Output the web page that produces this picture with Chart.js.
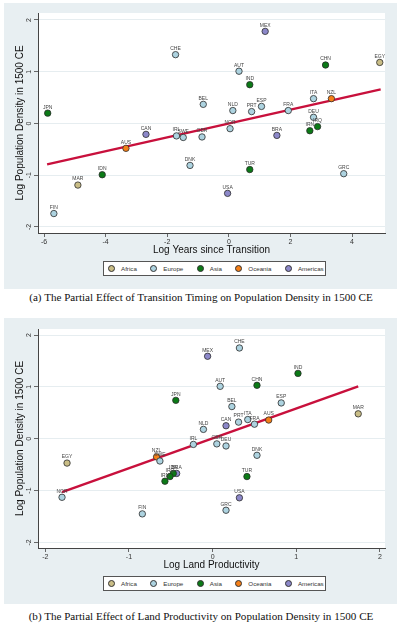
<!DOCTYPE html>
<html>
<head>
<meta charset="utf-8">
<script src="https://cdn.jsdelivr.net/npm/chart.js@4.4.1/dist/chart.umd.min.js"></script>
<style>
  body { margin: 0; background: #fff; width: 400px; height: 625px; position: relative; overflow: hidden; font-family: "Liberation Sans", Arial, sans-serif; }
  .panel { position: absolute; left: 4px; width: 393px; height: 286px; background: #e8eff2; }
  .panel canvas { position: absolute; left: 0; top: 0; }
  .legend { position: absolute; left: 99px; top: 258px; width: 217px; height: 13px; border: 1px solid #555; background: #fff;
            display: flex; align-items: center; padding-left: 4px; gap: 13.5px; font-size: 6.2px; color: #333; }
  .legend .item { display: flex; align-items: center; gap: 6px; }
  .legend .dot { width: 5px; height: 5px; border-radius: 50%; border: 0.8px solid #333; }
  .caption { position: absolute; left: 0; width: 402px; text-align: center; font-family: "Liberation Serif", serif; font-size: 11.1px; line-height: 12px; color: #111; }
</style>
</head>
<body>
<div class="panel" style="top:3px"><canvas id="chartA" width="393" height="286"></canvas><div class="legend" id="legendA"></div></div>
<div class="caption" style="top:291px">(a) The Partial Effect of Transition Timing on Population Density in 1500 CE</div>
<div class="panel" style="top:318px"><canvas id="chartB" width="393" height="286"></canvas><div class="legend" id="legendB"></div></div>
<div class="caption" style="top:610px">(b) The Partial Effect of Land Productivity on Population Density in 1500 CE</div>
<script>
// Regions and their marker colours
const regions = ["Africa", "Europe", "Asia", "Oceania", "Americas"];
const regionColors = ["#c9bd86", "#add3e0", "#0b7a16", "#f57f17", "#8c88c9"];

// Panel (a): log years since transition vs log population density
const codesA = ["CHE", "JPN", "CAN", "IRL", "SWE", "GBR", "NOR", "MEX", "EGY", "CHN", "AUT",
  "IND", "BEL", "NLD", "PRT", "ESP", "FRA", "ITA", "NZL", "DEU", "IRQ", "IRN", "BRA", "AUS",
  "DNK", "IDN", "MAR", "FIN", "TUR", "GRC", "USA"];
const regionA = ["Europe", "Asia", "Americas", "Europe", "Europe", "Europe", "Europe", "Americas",
  "Africa", "Asia", "Europe", "Asia", "Europe", "Europe", "Europe", "Europe", "Europe", "Europe",
  "Oceania", "Europe", "Asia", "Asia", "Americas", "Oceania", "Europe", "Asia", "Africa", "Europe",
  "Asia", "Europe", "Americas"];
const yearsA = [-1.73, -5.88, -2.69, -1.70, -1.48, -0.87, 0.04, 1.18, 4.90, 3.14, 0.33,
  0.68, -0.83, 0.13, 0.74, 1.06, 1.93, 2.75, 3.33, 2.75, 2.88, 2.63, 1.56, -3.34,
  -1.26, -4.11, -4.90, -5.68, 0.68, 3.73, -0.04];
const densityA = [1.33, 0.20, -0.21, -0.24, -0.27, -0.26, -0.10, 1.78, 1.18, 1.13, 1.01,
  0.75, 0.37, 0.25, 0.23, 0.33, 0.25, 0.48, 0.48, 0.12, -0.06, -0.14, -0.23, -0.48,
  -0.81, -0.99, -1.19, -1.74, -0.89, -0.97, -1.35];
const fitAx = [-5.90, 4.93];
const fitAy = [-0.79, 0.66];
const xTicksA = [-6, -4, -2, 0, 2, 4];

// Panel (b): log land productivity vs log population density
const codesB = ["JPN", "IRL", "MEX", "CHE", "IND", "AUT", "CHN", "BEL", "ESP", "MAR", "NLD",
  "CAN", "PRT", "ITA", "FRA", "AUS", "GBR", "DEU", "DNK", "TUR", "USA", "GRC", "EGY", "NZL",
  "SWE", "BRA", "IDN", "IRQ", "IRN", "NOR", "FIN"];
const regionB = ["Asia", "Europe", "Americas", "Europe", "Asia", "Europe", "Asia", "Europe",
  "Europe", "Africa", "Europe", "Americas", "Europe", "Europe", "Europe", "Oceania", "Europe",
  "Europe", "Europe", "Asia", "Americas", "Europe", "Africa", "Oceania", "Europe", "Americas",
  "Asia", "Asia", "Asia", "Europe", "Europe"];
const landB = [-0.44, -0.23, -0.06, 0.32, 1.02, 0.09, 0.53, 0.23, 0.82, 1.74, -0.11,
  0.16, 0.31, 0.42, 0.50, 0.67, 0.05, 0.16, 0.53, 0.41, 0.32, 0.16, -1.74, -0.67,
  -0.63, -0.43, -0.47, -0.51, -0.57, -1.80, -0.84];
const densityB = [0.74, -0.11, 1.59, 1.75, 1.26, 1.01, 1.03, 0.62, 0.69, 0.48, 0.18,
  0.25, 0.32, 0.37, 0.28, 0.36, -0.10, -0.14, -0.32, -0.73, -1.14, -1.38, -0.47, -0.35,
  -0.43, -0.67, -0.67, -0.73, -0.82, -1.13, -1.45];
const fitBx = [-1.80, 1.74];
const fitBy = [-1.03, 1.01];
const xTicksB = [-2, -1, 0, 1, 2];

const yTicks = [-2, -1, 0, 1, 2];
const yTitle = "Log Population Density in 1500 CE";
const fontFamily = '"Liberation Sans", Arial, sans-serif';

// White plot region on the grey graph region
const plotBg = {
  id: "plotBg",
  beforeDraw(chart) {
    const { ctx, chartArea: a } = chart;
    ctx.save();
    ctx.fillStyle = "#fff";
    ctx.fillRect(a.left, a.top, a.right - a.left, a.bottom - a.top);
    ctx.restore();
  },
};

// Country code above each marker
const codeLabels = {
  id: "codeLabels",
  afterDatasetsDraw(chart) {
    const ctx = chart.ctx;
    ctx.save();
    ctx.font = "5px " + fontFamily;
    ctx.fillStyle = "#444";
    ctx.textAlign = "center";
    ctx.textBaseline = "middle";
    chart.data.datasets.forEach((ds, i) => {
      if (!ds.codes) return;
      chart.getDatasetMeta(i).data.forEach((pt, j) => {
        ctx.fillText(ds.codes[j], pt.x, pt.y - 6);
      });
    });
    ctx.restore();
  },
};

function buildDatasets(codes, region, xs, ys, fitX, fitY) {
  const sets = regions.map((r, k) => {
    const idx = codes.map((_, i) => i).filter((i) => region[i] === r);
    return {
      label: r,
      codes: idx.map((i) => codes[i]),
      data: idx.map((i) => ({ x: xs[i], y: ys[i] })),
      backgroundColor: regionColors[k],
      borderColor: "#2b2b2b",
      borderWidth: 0.8,
      pointRadius: 3.2,
    };
  });
  sets.push({
    label: "fit",
    data: fitX.map((x, i) => ({ x: x, y: fitY[i] })),
    showLine: true,
    borderColor: "#c8103c",
    borderWidth: 2.4,
    pointRadius: 0,
  });
  return sets;
}

function makeChart(id, datasets, xTicks, xRange, yRange, xTitle, padTop) {
  new Chart(document.getElementById(id).getContext("2d"), {
    type: "scatter",
    data: { datasets: datasets },
    plugins: [plotBg, codeLabels],
    options: {
      responsive: false,
      animation: false,
      events: [],
      layout: { padding: { left: 0, right: 12, top: padTop, bottom: 30 } },
      plugins: { legend: { display: false }, tooltip: { enabled: false } },
      scales: {
        x: {
          type: "linear",
          min: xRange[0],
          max: xRange[1],
          afterFit: (s) => { s.height = 26; },
          afterBuildTicks: (s) => { s.ticks = xTicks.map((v) => ({ value: v })); },
          grid: { drawOnChartArea: false, tickLength: 4, tickColor: "#444", tickWidth: 0.8 },
          border: { color: "#444", width: 1 },
          ticks: { font: { size: 7, family: fontFamily }, color: "#333", padding: 1, maxRotation: 0, autoSkip: false },
          title: { display: true, text: xTitle, color: "#111", font: { size: 10, family: fontFamily }, padding: { top: 0, bottom: 3 } },
        },
        y: {
          type: "linear",
          min: yRange[0],
          max: yRange[1],
          afterFit: (s) => { s.width = 34; },
          afterBuildTicks: (s) => { s.ticks = yTicks.map((v) => ({ value: v })); },
          grid: { color: "#e6edf0", lineWidth: 1, tickLength: 4, tickColor: "#444", tickWidth: 0.8 },
          border: { color: "#444", width: 1 },
          ticks: { font: { size: 7, family: fontFamily }, color: "#333", padding: 2, minRotation: 90, maxRotation: 90, crossAlign: "center" },
          title: { display: true, text: yTitle, color: "#111", font: { size: 10, family: fontFamily }, padding: { top: 10, bottom: 0 } },
        },
      },
    },
  });
}

function makeLegend(id) {
  const box = document.getElementById(id);
  regions.forEach((r, k) => {
    const item = document.createElement("div");
    item.className = "item";
    const dot = document.createElement("div");
    dot.className = "dot";
    dot.style.background = regionColors[k];
    const txt = document.createElement("span");
    txt.textContent = r;
    item.appendChild(dot);
    item.appendChild(txt);
    box.appendChild(item);
  });
}

makeChart("chartA", buildDatasets(codesA, regionA, yearsA, densityA, fitAx, fitAy),
  xTicksA, [-6.195, 5.07], [-2.116, 2.135], "Log Years since Transition", 10);
makeChart("chartB", buildDatasets(codesB, regionB, landB, densityB, fitBx, fitBy),
  xTicksB, [-2.087, 2.06], [-2.108, 2.116], "Log Land Productivity", 11);
makeLegend("legendA");
makeLegend("legendB");
</script>
</body>
</html>
